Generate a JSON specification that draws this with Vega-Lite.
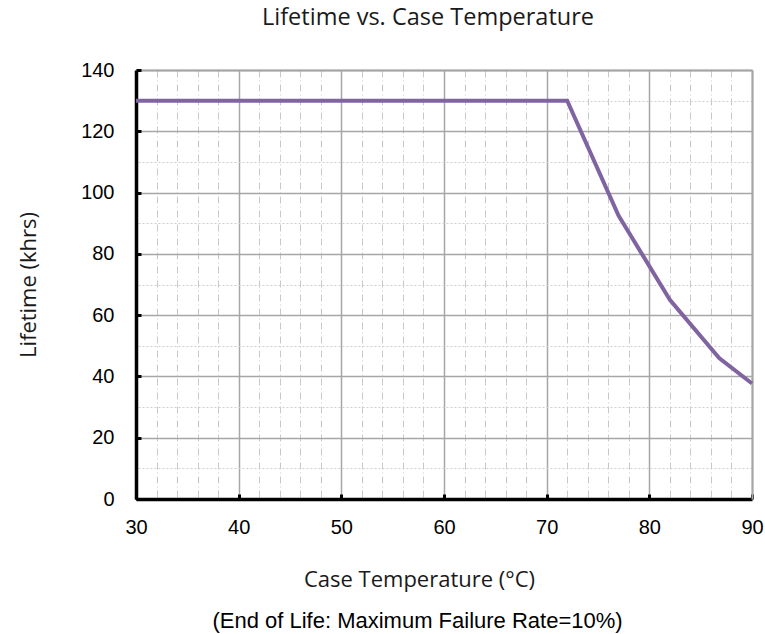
{
  "$schema": "https://vega.github.io/schema/vega-lite/v6.json",
  "width": 616,
  "height": 429,
  "autosize": "none",
  "padding": {"left": 136, "top": 70, "right": 13, "bottom": 135},
  "background": "white",
  "config": {"view": {"stroke": null}},
  "data": {"values": [
    {"T": 30, "L": 130},
    {"T": 72, "L": 130},
    {"T": 77, "L": 92.5},
    {"T": 82, "L": 65},
    {"T": 86.8, "L": 46},
    {"T": 90, "L": 37.7}
  ]},
  "resolve": {"axis": {"x": "independent", "y": "independent"}},
  "layer": [
    {
      "mark": {"type": "line", "strokeOpacity": 0},
      "encoding": {
        "x": {"field": "T", "type": "quantitative",
          "scale": {"domain": [30, 90], "nice": false, "zero": false},
          "axis": {"orient": "top", "values": [], "labels": false, "ticks": false, "grid": false,
            "domain": true, "domainColor": "#a6a6a6", "domainWidth": 2,
            "title": "Lifetime vs. Case Temperature", "titleFont": "Open Sans", "titleFontSize": 23.5,
            "titleFontWeight": "normal", "titleColor": "#1a1a1a",
            "titleX": 291.5, "titleY": -53, "titleBaseline": "middle", "titleAlign": "center"}},
        "y": {"field": "L", "type": "quantitative",
          "scale": {"domain": [0, 140], "nice": false},
          "axis": {"orient": "right", "values": [10, 30, 50, 70, 90, 110, 130], "labels": false, "ticks": false,
            "grid": true, "gridColor": "#cfcfcf", "gridDash": [2, 2], "gridWidth": 1,
            "domain": true, "domainColor": "#a6a6a6", "domainWidth": 2, "title": null}}
      }
    },
    {
      "mark": {"type": "line", "strokeOpacity": 0},
      "encoding": {
        "x": {"field": "T", "type": "quantitative",
          "scale": {"domain": [30, 90], "nice": false, "zero": false},
          "axis": {"orient": "bottom", "values": [32, 34, 36, 38, 42, 44, 46, 48, 52, 54, 56, 58, 62, 64, 66, 68, 72, 74, 76, 78, 82, 84, 86, 88],
            "labels": false, "ticks": false, "domain": false,
            "grid": true, "gridColor": "#c8c8c8", "gridDash": [7, 3, 1, 3], "gridWidth": 1,
            "title": "(End of Life: Maximum Failure Rate=10%)", "titleFont": "Liberation Sans", "titleFontSize": 22,
            "titleFontWeight": "normal", "titleColor": "#000000",
            "titleX": 281, "titleY": 121, "titleBaseline": "middle", "titleAlign": "center"}},
        "y": {"field": "L", "type": "quantitative",
          "scale": {"domain": [0, 140], "nice": false}, "axis": null}
      }
    },
    {
      "mark": {"type": "line", "color": "#8064a2", "strokeWidth": 4},
      "encoding": {
        "x": {"field": "T", "type": "quantitative",
          "scale": {"domain": [30, 90], "nice": false, "zero": false},
          "axis": {"orient": "bottom", "values": [30, 40, 50, 60, 70, 80, 90],
            "labelFont": "Liberation Sans", "labelFontSize": 20, "labelColor": "#000000",
            "labelPadding": 23, "labelFlush": false,
            "ticks": true, "tickSize": -5, "tickColor": "#000000", "tickWidth": 3,
            "domain": true, "domainColor": "#000000", "domainWidth": 3.5,
            "grid": true, "gridColor": "#a6a6a6", "gridWidth": 1.5,
            "title": "Case Temperature (°C)", "titleFont": "Open Sans", "titleFontSize": 22,
            "titleFontWeight": "normal", "titleColor": "#1a1a1a",
            "titleX": 283, "titleY": 80, "titleBaseline": "middle", "titleAlign": "center"}},
        "y": {"field": "L", "type": "quantitative",
          "scale": {"domain": [0, 140], "nice": false},
          "axis": {"orient": "left", "values": [0, 20, 40, 60, 80, 100, 120, 140],
            "labelFont": "Liberation Sans", "labelFontSize": 20, "labelColor": "#000000",
            "labelPadding": 27, "labelFlush": false,
            "ticks": true, "tickSize": -5, "tickColor": "#000000", "tickWidth": 3,
            "domain": true, "domainColor": "#000000", "domainWidth": 3.5,
            "grid": true, "gridColor": "#a6a6a6", "gridWidth": 1.5,
            "title": "Lifetime (khrs)", "titleFont": "Open Sans", "titleFontSize": 22,
            "titleFontWeight": "normal", "titleColor": "#1a1a1a",
            "titleX": -108, "titleY": 214.5, "titleAngle": -90, "titleBaseline": "middle", "titleAlign": "center"}}
      }
    }
  ]
}
